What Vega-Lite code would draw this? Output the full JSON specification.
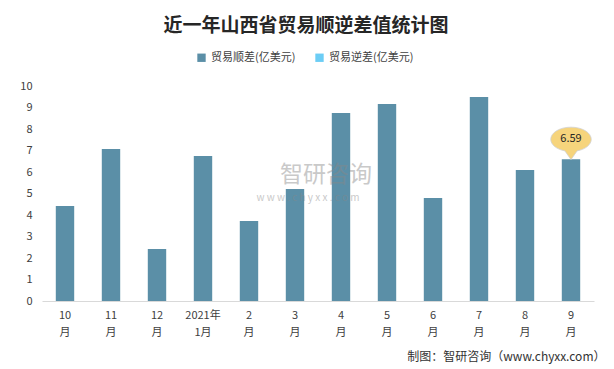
{
  "$schema": "https://vega.github.io/schema/vega-lite/v6.json",
  "autosize": {"type": "none"},
  "width": 552,
  "height": 215,
  "padding": {"left": 42, "top": 86, "right": 20, "bottom": 68},
  "background": "white",
  "config": {"view": {"stroke": null}, "font": "Noto Sans CJK SC"},
  "title": {
    "text": "近一年山西省贸易顺逆差值统计图",
    "font": "Noto Sans CJK SC",
    "fontSize": 19,
    "fontWeight": "bold",
    "color": "#262626",
    "anchor": "middle",
    "dx": -12,
    "offset": 16
  },
  "data": {
    "values": [
      {"month": "10|月", "value": 4.42, "type": "贸易顺差(亿美元)"},
      {"month": "11|月", "value": 7.07, "type": "贸易顺差(亿美元)"},
      {"month": "12|月", "value": 2.42, "type": "贸易顺差(亿美元)"},
      {"month": "2021年|1月", "value": 6.74, "type": "贸易顺差(亿美元)"},
      {"month": "2|月", "value": 3.72, "type": "贸易顺差(亿美元)"},
      {"month": "3|月", "value": 5.21, "type": "贸易顺差(亿美元)"},
      {"month": "4|月", "value": 8.74, "type": "贸易顺差(亿美元)"},
      {"month": "5|月", "value": 9.16, "type": "贸易顺差(亿美元)"},
      {"month": "6|月", "value": 4.79, "type": "贸易顺差(亿美元)"},
      {"month": "7|月", "value": 9.49, "type": "贸易顺差(亿美元)"},
      {"month": "8|月", "value": 6.09, "type": "贸易顺差(亿美元)"},
      {"month": "9|月", "value": 6.59, "type": "贸易顺差(亿美元)"}
    ]
  },
  "encoding": {
    "x": {
      "field": "month",
      "type": "nominal",
      "sort": null,
      "scale": {"paddingInner": 0.6, "paddingOuter": 0.3},
      "axis": {
        "labelAngle": 0,
        "labelExpr": "split(datum.value, '|')",
        "labelFontSize": 11,
        "labelColor": "#404040",
        "labelLineHeight": 17,
        "labelPadding": 8,
        "ticks": false,
        "domainColor": "#d9d9d9",
        "title": "制图：智研咨询（www.chyxx.com）",
        "titleFont": "Noto Sans CJK SC",
        "titleFontSize": 12,
        "titleFontWeight": "normal",
        "titleColor": "#333333",
        "titleAlign": "right",
        "titleAnchor": "end",
        "titleX": 563,
        "titleY": 55,
        "titleBaseline": "middle"
      }
    },
    "y": {
      "field": "value",
      "type": "quantitative",
      "scale": {"domain": [0, 10]},
      "axis": {
        "values": [0, 1, 2, 3, 4, 5, 6, 7, 8, 9, 10],
        "grid": false,
        "domain": false,
        "ticks": false,
        "labelPadding": 10,
        "labelFontSize": 11,
        "labelColor": "#404040",
        "title": null
      }
    }
  },
  "layer": [
    {
      "mark": {"type": "bar"},
      "encoding": {
        "color": {
          "field": "type",
          "type": "nominal",
          "scale": {
            "domain": ["贸易顺差(亿美元)", "贸易逆差(亿美元)"],
            "range": ["#5B8FA7", "#6CCDF5"]
          },
          "legend": {
            "orient": "none",
            "direction": "horizontal",
            "legendX": 154,
            "legendY": -34,
            "title": null,
            "symbolType": "square",
            "symbolSize": 70,
            "symbolStrokeWidth": 0,
            "labelFontSize": 11,
            "labelColor": "#404040",
            "columnPadding": 18,
            "labelOffset": 4
          }
        }
      }
    },
    {
      "mark": {"type": "text", "text": "智研咨询", "fontSize": 23, "color": "#888888", "opacity": 0.45, "dx": 31},
      "transform": [{"filter": "datum.month == '3|月'"}],
      "encoding": {"y": {"datum": 5.85}}
    },
    {
      "mark": {"type": "text", "text": "w w w . c h y x x . c o m", "fontSize": 10, "color": "#888888", "opacity": 0.45, "dx": 13},
      "transform": [{"filter": "datum.month == '3|月'"}],
      "encoding": {"y": {"datum": 4.8}}
    },
    {
      "mark": {
        "type": "point",
        "shape": "M -1 0 A 1 0.6 0 0 1 1 0 A 1 0.6 0 0 1 0.3 0.572 L 0 1 L -0.3 0.572 A 1 0.6 0 0 1 -1 0 Z",
        "size": 1640,
        "filled": true,
        "fill": "#F6D47C",
        "stroke": "#d0d0d0",
        "strokeWidth": 0.8,
        "opacity": 1,
        "yOffset": -20
      },
      "transform": [{"filter": "datum.month == '9|月'"}]
    },
    {
      "mark": {"type": "text", "fontSize": 11, "color": "#262626", "yOffset": -20},
      "transform": [{"filter": "datum.month == '9|月'"}],
      "encoding": {"text": {"field": "value", "type": "quantitative", "format": ".2f"}}
    }
  ]
}
